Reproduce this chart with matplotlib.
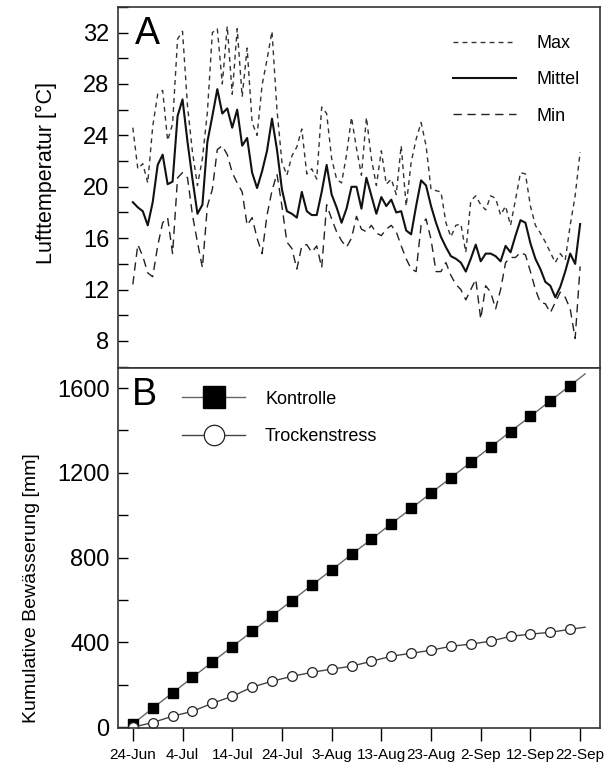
import matplotlib.pyplot as plt
from matplotlib.ticker import MultipleLocator

plt.rcParams['font.family'] = ['Liberation Sans', 'DejaVu Sans']

# Tage ab 24-Jun
tage = list(range(91))

t_max = [24.6, 21.4, 21.8, 20.3, 24.7, 27.2, 27.5, 23.6, 24.9, 31.5,
         32.1, 26.3, 22.7, 20.1, 22.2, 25.8, 32.0, 32.3, 28.0, 32.5,
         27.2, 32.3, 27.0, 30.8, 25.0, 24.0, 27.9, 29.9, 32.1, 26.0,
         21.9, 20.9, 22.4, 23.1, 24.5, 21.0, 21.4, 20.6, 26.2, 25.7,
         22.2, 20.6, 20.3, 22.5, 25.4, 23.0, 20.9, 25.4, 22.2, 20.1,
         22.8, 20.2, 20.6, 19.4, 23.2, 18.5, 21.9, 23.7, 25.0, 23.2,
         19.8, 19.7, 19.6, 17.2, 16.1, 17.0, 17.1, 14.9, 18.9, 19.3,
         18.6, 18.2, 19.3, 19.1, 17.8, 18.5, 17.0, 19.0, 21.1, 21.0,
         18.5, 17.0, 16.4, 15.7, 14.9, 14.1, 14.8, 14.3, 17.0, 19.3,
         22.7]

t_mittel = [18.8, 18.4, 18.1, 17.0, 18.8, 21.7, 22.5, 20.2, 20.4, 25.5,
            26.8, 23.5, 20.6, 17.9, 18.6, 23.5, 25.5, 27.6, 25.7, 26.1,
            24.6, 26.0, 23.2, 23.8, 21.1, 19.9, 21.2, 22.8, 25.3, 22.9,
            19.8, 18.1, 17.9, 17.6, 19.6, 18.1, 17.8, 17.8, 19.6, 21.7,
            19.4, 18.4, 17.2, 18.3, 20.0, 20.0, 18.3, 20.7, 19.3, 17.9,
            19.2, 18.5, 19.0, 18.0, 18.1, 16.6, 16.3, 18.5, 20.5, 20.1,
            18.5, 17.2, 16.1, 15.3, 14.6, 14.4, 14.1, 13.4, 14.4, 15.5,
            14.2, 14.8, 14.8, 14.6, 14.2, 15.4, 14.9, 16.2, 17.4, 17.2,
            15.6, 14.4, 13.6, 12.6, 12.3, 11.4, 12.2, 13.4, 14.8, 14.0,
            17.1]

t_min = [12.4, 15.5, 14.6, 13.3, 13.0, 15.4, 17.2, 17.6, 14.8, 20.7,
         21.1, 20.7, 17.8, 15.7, 13.7, 18.5, 19.8, 22.9, 23.2, 22.5,
         21.1, 20.3, 19.6, 17.0, 17.6, 16.0, 14.8, 17.8, 19.7, 21.0,
         18.5, 15.7, 15.2, 13.6, 15.4, 15.5, 14.9, 15.4, 13.7, 18.6,
         17.5, 16.5, 15.8, 15.3, 16.0, 17.7, 16.7, 16.5, 17.0, 16.4,
         16.2, 16.7, 17.0, 16.5, 15.4, 14.4, 13.6, 13.4, 17.0, 17.5,
         15.9, 13.4, 13.4, 14.1, 13.1, 12.4, 12.0, 11.2, 12.0, 12.8,
         9.7, 12.3, 11.8, 10.5, 12.0, 14.1, 14.5, 14.5, 14.9, 14.7,
         13.4, 12.0, 11.0, 10.9, 10.2, 11.0, 11.8, 11.4, 10.5, 8.2,
         13.8]

# Bewaesserung alle 4 Tage
bew_tage = list(range(0, 89, 4))
kontrolle = [15, 90, 162, 235, 308, 380, 452, 525, 597, 670, 742, 815,
             887, 960, 1032, 1105, 1177, 1250, 1322, 1395, 1467, 1540, 1612]
trocken = [0, 22, 52, 75, 113, 146, 189, 217, 240, 259, 274, 288,
           311, 335, 349, 363, 382, 392, 406, 429, 439, 448, 462]
ende_tag = 91
kontrolle_ende = 1667
trocken_ende = 472

xticks = [0, 10, 20, 30, 40, 50, 60, 70, 80, 90]
xlabels = ['24-Jun', '4-Jul', '14-Jul', '24-Jul', '3-Aug', '13-Aug',
           '23-Aug', '2-Sep', '12-Sep', '22-Sep']

fig = plt.figure(figsize=(6.11, 7.65), dpi=100)
ax1 = fig.add_axes([0.193, 0.519, 0.789, 0.472])
ax2 = fig.add_axes([0.193, 0.048, 0.789, 0.471])

for ax in (ax1, ax2):
    for sp in ax.spines.values():
        sp.set_linewidth(1.2)
        sp.set_color('#333333')
    ax.set_xlim(-3, 94)

# --- A: Lufttemperatur
ax1.plot(tage, t_max, color='#333333', lw=1.0, dashes=(3.5, 3), label='Max')
ax1.plot(tage, t_mittel, color='#111111', lw=1.5, label='Mittel')
ax1.plot(tage, t_min, color='#222222', lw=1.0, dashes=(6, 4), label='Min')
ax1.set_ylim(5.9, 34)
ax1.yaxis.set_major_locator(MultipleLocator(4))
ax1.yaxis.set_minor_locator(MultipleLocator(2))
ax1.tick_params(axis='y', which='both', direction='in', length=7, width=1,
                labelsize=17, pad=6)
ax1.tick_params(axis='x', which='both', bottom=False, labelbottom=False)
ax1.set_ylabel('Lufttemperatur [°C]', fontsize=15.5)
ax1.yaxis.set_label_coords(-0.127, 0.54)
ax1.text(0.035, 0.975, 'A', transform=ax1.transAxes, fontsize=27,
         ha='left', va='top')
ax1.legend(loc='upper left', bbox_to_anchor=(0.695, 0.922), frameon=False,
           fontsize=13, handlelength=3.5, handletextpad=1.1,
           labelspacing=1.07, borderpad=0, borderaxespad=0)

# --- B: Kumulative Bewaesserung
ax2.plot(bew_tage + [ende_tag], kontrolle + [kontrolle_ende], color='#666666',
         lw=1.0, marker='s', markersize=7.5, markerfacecolor='black',
         markeredgecolor='black', markevery=list(range(len(bew_tage))),
         label='Kontrolle')
ax2.plot(bew_tage + [ende_tag], trocken + [trocken_ende], color='#444444',
         lw=1.0, marker='o', markersize=7, markerfacecolor='white',
         markeredgecolor='#222222', markeredgewidth=0.9,
         markevery=list(range(len(bew_tage))), label='Trockenstress')
ax2.set_ylim(-5, 1695)
ax2.yaxis.set_major_locator(MultipleLocator(400))
ax2.yaxis.set_minor_locator(MultipleLocator(200))
ax2.tick_params(axis='y', which='both', direction='in', length=7, width=1,
                labelsize=17, pad=6)
ax2.set_xticks(xticks)
ax2.set_xticklabels(xlabels)
ax2.tick_params(axis='x', direction='out', length=9.5, width=1,
                labelsize=11, pad=5)
ax2.set_ylabel('Kumulative Bewässerung [mm]', fontsize=14)
ax2.yaxis.set_label_coords(-0.162, 0.39)
ax2.text(0.029, 0.975, 'B', transform=ax2.transAxes, fontsize=27,
         ha='left', va='top')
ax2.legend(loc='upper left', bbox_to_anchor=(0.133, 0.937), frameon=False,
           fontsize=13, handlelength=3.5, handletextpad=1.1,
           labelspacing=1.13, borderpad=0, borderaxespad=0, markerscale=2.1)

fig.savefig('out.png', dpi=100)
